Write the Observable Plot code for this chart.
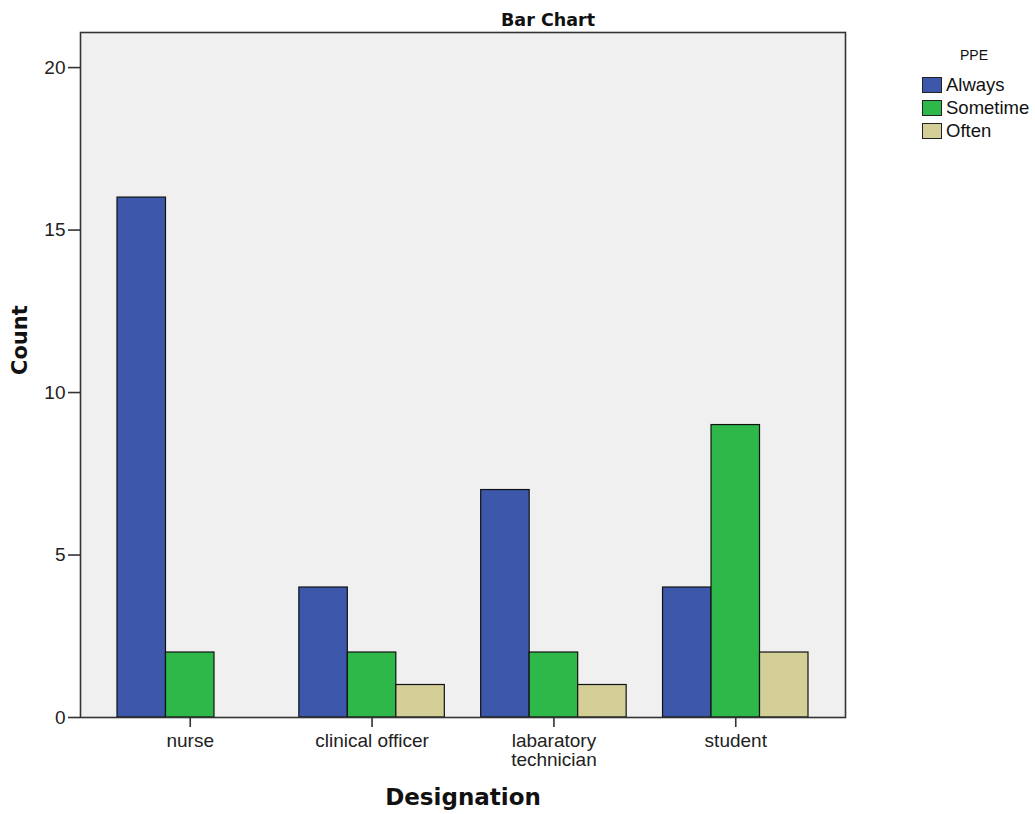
<!DOCTYPE html>
<html>
<head>
<meta charset="utf-8">
<script src="https://cdn.jsdelivr.net/npm/d3@7"></script>
<script src="https://cdn.jsdelivr.net/npm/@observablehq/plot@0.6"></script>
<style>
  html, body { margin: 0; padding: 0; background: #fff; }
  #wrap { position: relative; width: 1035px; height: 814px; }
  #legend { position: absolute; left: 922px; top: 44px; font-family: "Liberation Sans", Arial, sans-serif; color: #111; }
  #legend .ttl { position: absolute; left: 27px; top: 3px; width: 50px; text-align: center; font-size: 14px; line-height: 16px; }
  #legend .row { position: absolute; left: 0; height: 22px; display: flex; align-items: center; white-space: nowrap; font-size: 18.5px; }
  #legend .sw { width: 20px; height: 16px; border: 1.5px solid #222; box-sizing: border-box; margin-right: 4px; }
</style>
</head>
<body>
<div id="wrap"></div>
<script>
const designations = ["nurse", "clinical officer", "labaratory technician", "student"];
const tickLabels = ["nurse", "clinical officer", "labaratory\ntechnician", "student"];
const ppeLevels = ["Always", "Sometime", "Often"];
const alwaysCounts = [16, 4, 7, 4];
const sometimeCounts = [2, 2, 2, 9];
const oftenCounts = [0, 1, 1, 2];
const ppeColors = ["#3d57aa", "#2fb84a", "#d4ce97"];
const yTicks = [0, 5, 10, 15, 20];

const series = [alwaysCounts, sometimeCounts, oftenCounts];
const data = [];
designations.forEach((d, i) => {
  ppeLevels.forEach((p, j) => {
    data.push({designation: d, ppe: p, count: series[j][i]});
  });
});
const barData = data.filter(d => d.count > 0);

const outer = 37; // gap between the plot frame and the first/last group

const chart = Plot.plot({
  width: 1035,
  height: 814,
  marginLeft: 80 + outer,
  marginRight: 190 + outer,
  marginTop: 32,
  marginBottom: 97,
  style: {fontFamily: "'Liberation Sans', Arial, sans-serif", fontSize: "19px", background: "white", color: "#222"},
  fx: {domain: designations, paddingInner: 0.2, paddingOuter: 0, round: false, label: null},
  x: {domain: ppeLevels, padding: 0, round: false, axis: null},
  y: {domain: [0, 21.08], label: null},
  color: {domain: ppeLevels, range: ppeColors},
  marks: [
    Plot.frame({facet: "super", fill: "#f0f0f0", stroke: null, insetLeft: -outer, insetRight: -outer}),
    Plot.barY(barData, {fx: "designation", x: "ppe", y: "count", fill: "ppe", stroke: "#111", strokeWidth: 1.2}),
    Plot.frame({facet: "super", stroke: "#333", strokeWidth: 1.6, insetLeft: -outer, insetRight: -outer}),
    Plot.axisY({ticks: yTicks, tickSize: 12, tickPadding: 3, label: null, stroke: "#333", strokeWidth: 1.6, dx: -outer}),
    Plot.axisFx({anchor: "bottom", tickSize: 10, tickPadding: 6, label: null, tickFormat: d => tickLabels[designations.indexOf(d)], lineHeight: 1.0, stroke: "#333", strokeWidth: 1.6}),
    Plot.text(["Bar Chart"], {facet: "super", frameAnchor: "top", lineAnchor: "middle", dx: 85, dy: -12, fontFamily: "'DejaVu Sans', sans-serif", fontWeight: "bold", fontSize: 17.5, fill: "#111"}),
    Plot.text(["Count"], {facet: "super", frameAnchor: "left", lineAnchor: "middle", dx: 20 - 80 - outer, rotate: -90, fontFamily: "'DejaVu Sans', sans-serif", fontWeight: "bold", fontSize: 21, fill: "#111"}),
    Plot.text(["Designation"], {facet: "super", frameAnchor: "bottom", lineAnchor: "middle", dy: 80, fontFamily: "'DejaVu Sans', sans-serif", fontWeight: "bold", fontSize: 23, fill: "#111"})
  ]
});

const wrap = document.getElementById("wrap");
wrap.appendChild(chart);

const legend = document.createElement("div");
legend.id = "legend";
const ttl = document.createElement("div");
ttl.className = "ttl";
ttl.textContent = "PPE";
legend.appendChild(ttl);
ppeLevels.forEach((p, j) => {
  const row = document.createElement("div");
  row.className = "row";
  row.style.top = (30 + j * 23) + "px";
  const sw = document.createElement("div");
  sw.className = "sw";
  sw.style.background = ppeColors[j];
  const lab = document.createElement("span");
  lab.textContent = p;
  row.appendChild(sw);
  row.appendChild(lab);
  legend.appendChild(row);
});
wrap.appendChild(legend);
</script>
</body>
</html>
